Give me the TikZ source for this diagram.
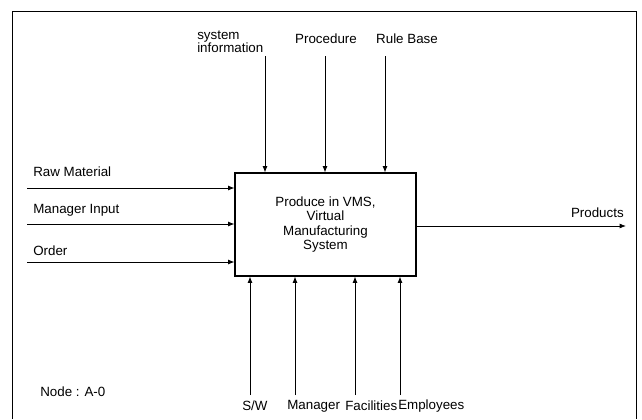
\documentclass[tikz,border=0pt]{standalone}
\usepackage{fontspec}
\setmainfont{Liberation Sans}
\usepackage{tikz}
\usetikzlibrary{positioning, arrows.meta}

\begin{document}
\begin{tikzpicture}[font=\fontsize{9.5}{10.4}\selectfont,
  flow/.style={-{Latex[length=4.5pt,width=3.5pt]}, line width=0.6pt},
  lbl/.style={inner sep=0pt}]
\useasboundingbox (0,0) rectangle (16.05,-10.475);
\draw[line width=0.5pt] (0.3,-10.475) |- (15.9,-0.275) -- (15.9,-10.475);

\node[draw, line width=0.8pt, minimum width=4.525cm, minimum height=2.575cm, align=center] at (8.1375,-5.6125) (vms) {Produce in VMS,\\Virtual\\Manufacturing\\System} ;

\coordinate (raw) at (0.675,-4.7) ;
\coordinate (mgrin) at (0.675,-5.6) ;
\coordinate (order) at (0.675,-6.55) ;
\coordinate (sysinfo) at (6.625,-1.4) ;
\coordinate (proc) at (8.125,-1.4) ;
\coordinate (rules) at (9.625,-1.4) ;
\coordinate (sw) at (6.25,-9.875) ;
\coordinate (mgr) at (7.375,-9.875) ;
\coordinate (fac) at (8.875,-9.875) ;
\coordinate (emp) at (10.0,-9.875) ;
\coordinate (prod) at (15.65,-5.65) ;

\node[lbl, anchor=west] at (0.825,-4.3) (rawlbl) {Raw Material} ;
\node[lbl, anchor=west] at (0.825,-5.25) (mgrinlbl) {Manager Input} ;
\node[lbl, anchor=west] at (0.825,-6.27) (orderlbl) {Order} ;
\node[lbl, anchor=west, align=left] at (4.925,-1.04) (sysinfolbl) {system\\[-1pt]information} ;
\node[lbl] at (8.15,-0.975) (proclbl) {Procedure} ;
\node[lbl] at (10.175,-0.975) (ruleslbl) {Rule Base} ;
\node[lbl, anchor=west] at (6.05,-10.15) (swlbl) {S/W} ;
\node[lbl, anchor=west] at (7.175,-10.15) (mgrlbl) {Manager} ;
\node[lbl, anchor=west] at (8.625,-10.15) (faclbl) {Facilities} ;
\node[lbl, anchor=west] at (9.95,-10.15) (emplbl) {Employees} ;
\node[lbl, anchor=east] at (15.6,-5.33) (prodlbl) {Products} ;
\node[lbl, anchor=west] at (1.0,-9.8) (nodelbl) {Node : A-0} ;

\draw[flow] (raw) -- (raw -| vms.west) ;
\draw[flow] (mgrin) -- (mgrin -| vms.west) ;
\draw[flow] (order) -- (order -| vms.west) ;
\draw[flow] (sysinfo) -- (sysinfo |- vms.north) ;
\draw[flow] (proc) -- (proc |- vms.north) ;
\draw[flow] (rules) -- (rules |- vms.north) ;
\draw[flow] (sw) -- (sw |- vms.south) ;
\draw[flow] (mgr) -- (mgr |- vms.south) ;
\draw[flow] (fac) -- (fac |- vms.south) ;
\draw[flow] (emp) -- (emp |- vms.south) ;
\draw[flow] (prod -| vms.east) -- (prod) ;
\end{tikzpicture}
\end{document}
